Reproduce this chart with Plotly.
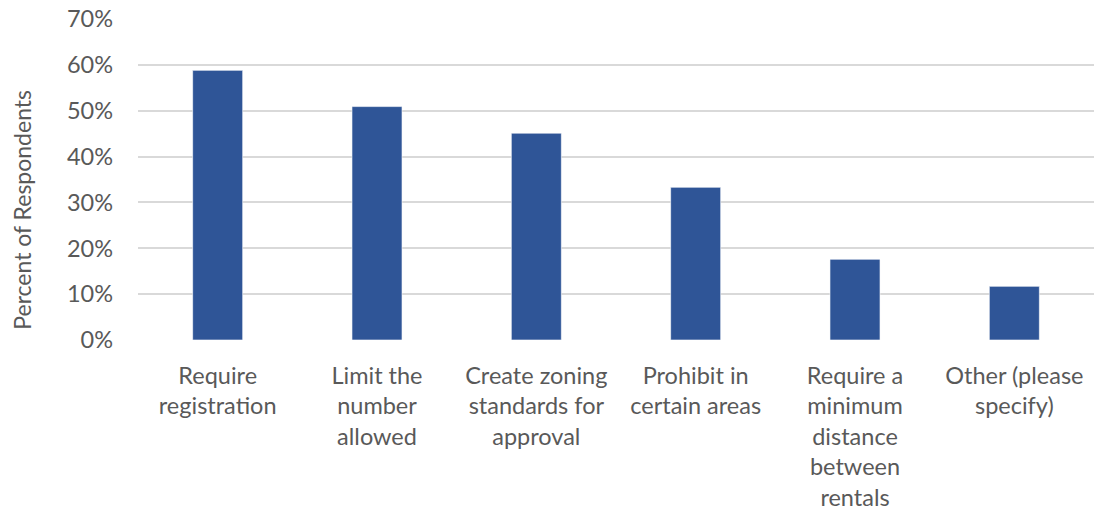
import plotly.graph_objects as go

categories = [
    "Require<br>registration",
    "Limit the<br>number<br>allowed",
    "Create zoning<br>standards for<br>approval",
    "Prohibit in<br>certain areas",
    "Require a<br>minimum<br>distance<br>between<br>rentals",
    "Other (please<br>specify)",
]
values = [58.8, 50.9, 45.1, 33.3, 17.6, 11.7]
y_ticks = [0, 10, 20, 30, 40, 50, 60, 70]
y_tick_labels = [f"{v}%" for v in y_ticks]

FONT = "Lato, 'Open Sans', sans-serif"
TEXT = "#595959"

fig = go.Figure(
    go.Bar(
        x=categories,
        y=values,
        width=0.314,
        marker=dict(color="#2F5597", line=dict(color="rgba(255,255,255,0.6)", width=1)),
        hoverinfo="skip",
    )
)

fig.update_layout(
    width=1095,
    height=514,
    margin=dict(l=138, r=1, t=19, b=173.5),
    paper_bgcolor="white",
    plot_bgcolor="white",
    showlegend=False,
    font=dict(family=FONT, color=TEXT, size=23),
    xaxis=dict(
        showgrid=False,
        showline=False,
        zeroline=False,
        ticks="",
        tickfont=dict(size=23.5, color=TEXT),
        ticklabelstandoff=19,
    ),
    yaxis=dict(
        range=[0, 70],
        tickvals=y_ticks,
        ticktext=y_tick_labels,
        showgrid=True,
        gridcolor="#d9d9d9",
        gridwidth=1.5,
        zeroline=False,
        showline=False,
        ticks="",
        tickfont=dict(size=23.5, color=TEXT),
        ticklabelstandoff=24,
    ),
    annotations=[
        dict(
            text="Percent of Respondents",
            textangle=-90,
            xref="paper",
            yref="paper",
            x=-138 / 956 + 22 / 956,
            y=(340.5 - 210) / 321.5,
            xanchor="center",
            yanchor="middle",
            showarrow=False,
            font=dict(size=23, color=TEXT, family=FONT),
        )
    ],
)

fig.write_html("out.html")
